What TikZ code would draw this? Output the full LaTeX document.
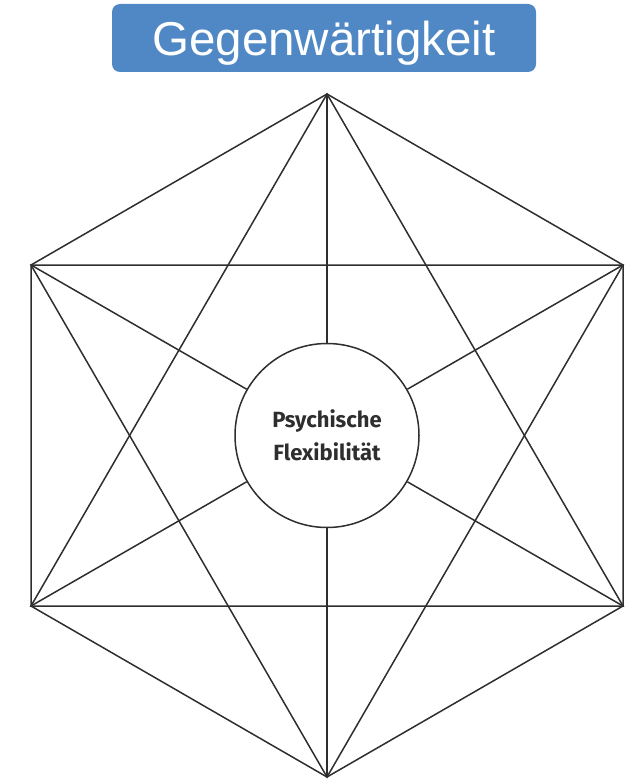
\documentclass[tikz,border=0pt]{standalone}
\usepackage{fontspec}
\setmainfont{Liberation Sans}
\newfontfamily\centerfont{Fira Sans}
\definecolor{titleblue}{HTML}{4F88C4}
\definecolor{linegray}{HTML}{2E2E2E}
\begin{document}
\begin{tikzpicture}[x=1pt,y=-1pt,
  edge/.style={draw=linegray,line width=1.5pt},
  titlebox/.style={fill=titleblue,rounded corners=8pt,minimum width=424pt,minimum height=68pt,inner sep=0pt,text depth=0pt,text=white,font=\fontsize{47.5}{47.5}\selectfont},
  hub/.style={circle,draw=linegray,line width=1.5pt,minimum size=184pt,inner sep=0pt,fill=white,align=center,text=linegray,font=\centerfont\bfseries\fontsize{22}{33}\selectfont}]
\useasboundingbox (0,0) rectangle (628,781);
\node[titlebox] (title) at (324,38) {Gegenwärtigkeit};
\coordinate (t) at (327,94);
\coordinate (b) at (327,777);
\coordinate (ul) at (31,265);
\coordinate (ur) at (623,265);
\coordinate (ll) at (31,606);
\coordinate (lr) at (623,606);
\node[hub] (c) at (327,435.5) {Psychische\\Flexibilität};
% hexagon
\draw[edge] (t) -- (ur) -- (lr) -- (b) -- (ll) -- (ul) -- cycle;
% triangles
\draw[edge] (t) -- (ll) -- (lr) -- cycle;
\draw[edge] (b) -- (ul) -- (ur) -- cycle;
% spokes
\foreach \v in {t,b,ul,ur,ll,lr} \draw[edge] (\v) -- (c);
\end{tikzpicture}
\end{document}
